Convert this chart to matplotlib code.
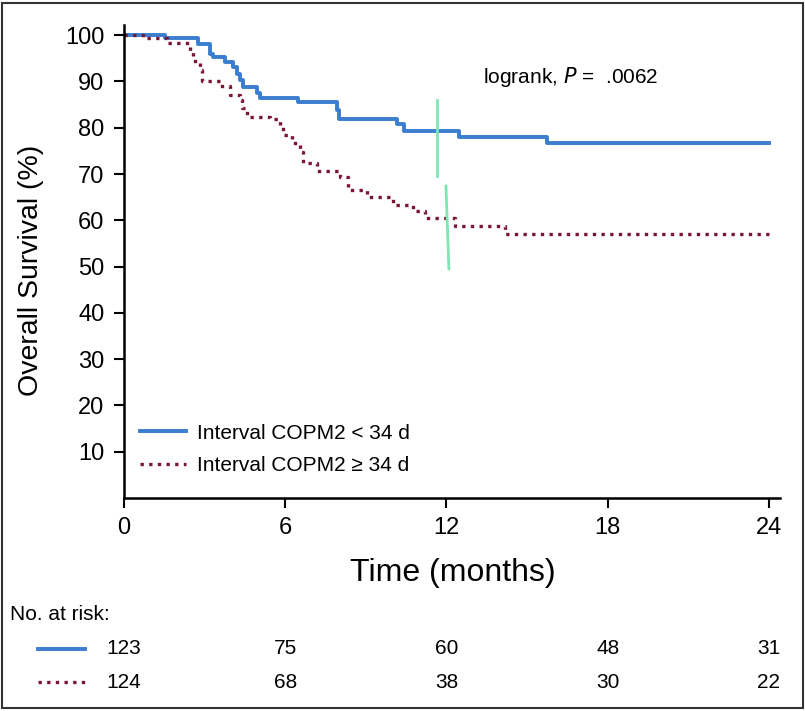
"""
Kaplan-Meier overall survival by interval COPM2, with number at risk table.
"""
import matplotlib
matplotlib.use("Agg")
import matplotlib.pyplot as plt
import matplotlib.transforms as mtransforms
from matplotlib.lines import Line2D
from matplotlib.patches import Rectangle

plt.rcParams["font.family"] = ["Liberation Sans", "DejaVu Sans"]

# Survival curves (time in months, survival in %)
blue_t = [0, 1.53, 2.75, 3.20, 3.32, 3.76, 4.07, 4.19, 4.32, 4.44, 4.94, 5.06,
          6.49, 7.91, 8.01, 10.15, 10.42, 12.48, 15.75, 24]
blue_s = [100, 99.3, 98.2, 96.0, 95.2, 94.2, 93.2, 91.7, 90.4, 88.8, 87.4, 86.5,
          85.5, 83.8, 81.9, 80.9, 79.3, 78.0, 76.6, 76.6]

red_t = [0, 0.72, 1.59, 2.46, 2.58, 2.83, 2.90, 3.57, 3.94, 4.32, 4.40, 4.57,
         5.43, 5.80, 5.93, 6.24, 6.55, 6.67, 7.17, 8.04, 8.35, 9.03, 10.02,
         10.76, 11.20, 12.32, 14.18, 24]
red_s = [100, 99.3, 98.3, 96.4, 94.5, 92.4, 90.1, 89.0, 87.0, 86.0, 84.2, 82.4,
         81.8, 80.2, 78.4, 76.6, 74.8, 72.3, 70.7, 69.4, 66.5, 65.1, 63.3,
         62.1, 60.4, 58.7, 57.0, 57.0]

# the two green marks near 12 months
green_blue_x = [11.65, 11.65]
green_blue_y = [86.0, 69.5]
green_red_x = [11.98, 12.09]
green_red_y = [67.4, 49.5]

labels = ["Interval COPM2 < 34 d", "Interval COPM2 \u2265 34 d"]
risk_times = [0, 6, 12, 18, 24]
risk_blue = [123, 75, 60, 48, 31]
risk_red = [124, 68, 38, 30, 22]

blue = "#3b7dcf"
red = "#7a1632"
green = "#7fe6b4"

fig = plt.figure(figsize=(8.05, 7.11), dpi=100)
ax = fig.add_axes([124 / 805, 1 - 498 / 711, 656 / 805, 473 / 711])

ax.step(blue_t, blue_s, where="post", color=blue, lw=2.8, label=labels[0])
ax.step(red_t, red_s, where="post", color=red, lw=2.4,
        linestyle=(0, (1, 1.6)), label=labels[1])
ax.plot(green_blue_x, green_blue_y, color=green, lw=2)
ax.plot(green_red_x, green_red_y, color=green, lw=2)

ax.set_xlim(0, 24.41)
ax.set_ylim(0, 102.2)
ax.set_xticks(risk_times)
ax.set_yticks(range(10, 101, 10))
ax.tick_params(axis="both", direction="out", length=7, width=1.5,
               labelsize=17, pad=7)
for side in ["top", "right"]:
    ax.spines[side].set_visible(False)
for side in ["left", "bottom"]:
    ax.spines[side].set_linewidth(1.8)

ax.text(0.548, 0.89, "logrank, $\\it{P}$ =  .0062", transform=ax.transAxes,
        fontsize=15, ha="left", va="center")

ax.legend(loc="upper left", bbox_to_anchor=(0.024, 0.157), frameon=False,
          fontsize=15, handlelength=2.2, handletextpad=0.55, labelspacing=0.65,
          borderpad=0, borderaxespad=0)

fig.text(453 / 805, 1 - 573 / 711, "Time (months)", fontsize=23,
         ha="center", va="center")
fig.text(31 / 805, 1 - 270 / 711, "Overall Survival (%)", fontsize=20.5,
         ha="center", va="center", rotation=90)

# number at risk table
fig.text(10 / 805, 1 - 615 / 711, "No. at risk:", fontsize=15, va="center")
trans = mtransforms.blended_transform_factory(ax.transData, fig.transFigure)
for row, (vals, col, ls, y) in enumerate(
        [(risk_blue, blue, "-", 649), (risk_red, red, (0, (1, 1.6)), 682)]):
    fig.add_artist(Line2D([38 / 805, 85 / 805], [1 - y / 711] * 2,
                          color=col, lw=2.8 if row == 0 else 2.4, linestyle=ls))
    for t, v in zip(risk_times, vals):
        fig.text(t, 1 - y / 711, str(v), transform=trans, fontsize=15,
                 ha="center", va="center")

fig.add_artist(Rectangle((2 / 805, 3 / 711), 801 / 805, 705 / 711,
                         transform=fig.transFigure, fill=False,
                         edgecolor="#333333", lw=1.5))

fig.savefig("out.png", dpi=100)
